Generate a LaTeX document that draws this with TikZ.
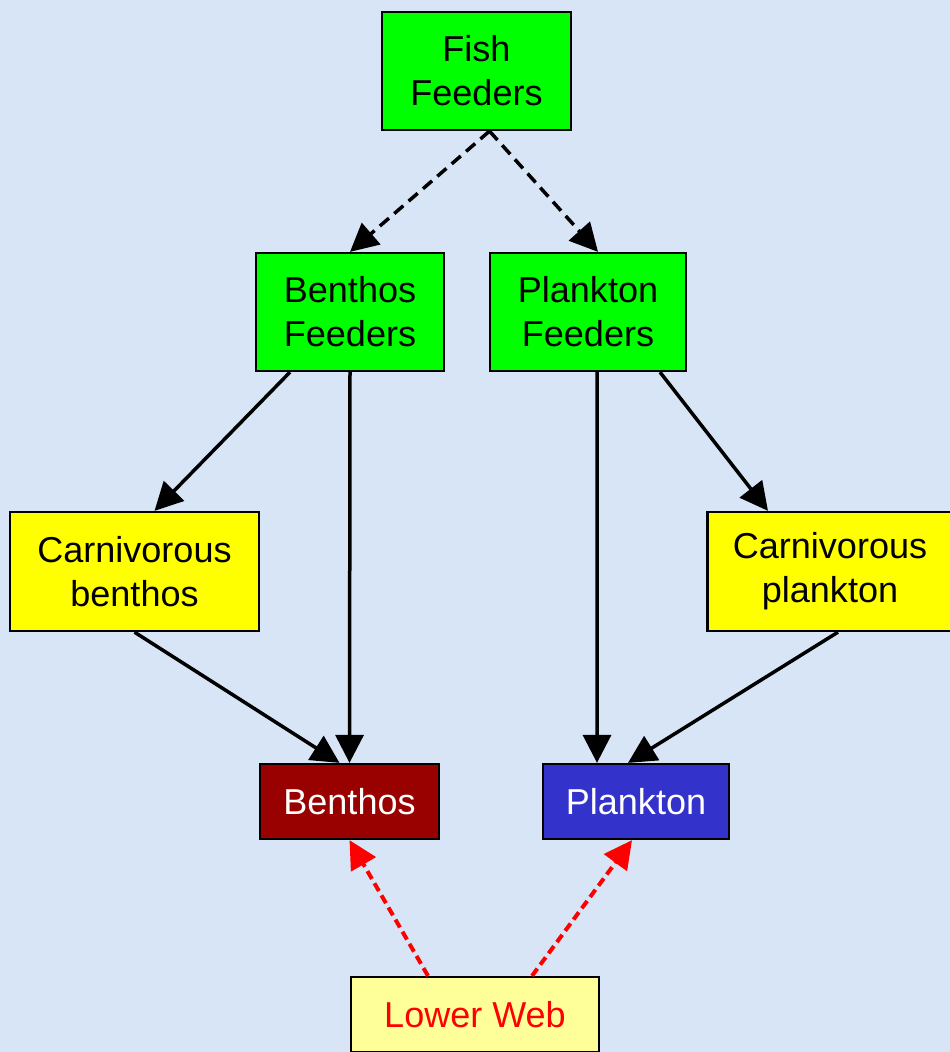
\documentclass[tikz,border=0pt]{standalone}
\usepackage{xcolor}
\usepackage{fontspec}
\setmainfont{Liberation Sans}
\usetikzlibrary{shapes,arrows.meta,positioning}

\definecolor{paper}{RGB}{216,229,246}
\definecolor{leaf}{RGB}{0,255,0}
\definecolor{carni}{RGB}{255,255,0}
\definecolor{benthred}{RGB}{153,0,0}
\definecolor{planblue}{RGB}{51,51,204}
\definecolor{webyellow}{RGB}{255,255,153}

\begin{document}
\begin{tikzpicture}[
          every node/.style={draw, line width=0.45mm, align=center, inner sep=0pt,
                font=\fontsize{20.5}{25}\selectfont},
          feeder/.style={fill=leaf, minimum height=2.36cm},
          prey/.style={fill=carni, minimum height=2.38cm},
          base/.style={minimum height=1.5cm, text=white},
          to/.style={-{Triangle[length=0.56cm,width=0.56cm]}, line width=0.7mm},
          eats/.style={to, dash pattern=on 0.24cm off 0.14cm},
          feeds/.style={to, red, line width=0.8mm, dash pattern=on 0.18cm off 0.1cm},
		]
            \fill[paper] (0,0) rectangle (19,-21.04);
            \useasboundingbox (0,0) rectangle (19,-21.04);

			\node[feeder, minimum width=3.78cm] at (9.53,-1.42) (fish) {Fish\\Feeders};
			\node[feeder, minimum width=3.76cm] at (7.0,-6.24) (bfeed) {Benthos\\Feeders};
			\node[feeder, minimum width=3.92cm] at (11.76,-6.24) (pfeed) {Plankton\\Feeders};
			\node[prey, minimum width=4.98cm] at (2.69,-11.43) (cbenth) {Carnivorous\\benthos};
			\node[prey, minimum width=4.9cm] at (16.6,-11.43) (cplank) {Carnivorous\\plankton};
			\node[base, fill=benthred, minimum width=3.58cm] at (6.99,-16.03) (benthos) {Benthos};
			\node[base, fill=planblue, minimum width=3.72cm] at (12.72,-16.03) (plankton) {Plankton};
			\node[fill=webyellow, text=red, minimum width=4.96cm, minimum height=1.5cm]
                at (9.5,-20.29) (web) {Lower Web};

            \draw[eats] ([xshift=0.26cm]fish.south) -- (bfeed.north);
            \draw[eats] ([xshift=0.26cm]fish.south) -- ([xshift=0.2cm]pfeed.north);
            \draw[to] ([xshift=-1.2cm]bfeed.south) -- ([xshift=0.4cm]cbenth.north);
            \draw[to] (bfeed.south) -- (benthos.north);
            \draw[to] ([xshift=1.44cm]pfeed.south) -- ([xshift=-1.24cm]cplank.north);
            \draw[to] ([xshift=0.18cm]pfeed.south) -- ([xshift=-0.78cm]plankton.north);
            \draw[to] (cbenth.south) -- ([xshift=-0.2cm]benthos.north);
            \draw[to] ([xshift=0.16cm]cplank.south) -- ([xshift=-0.16cm]plankton.north);
            \draw[feeds] ([xshift=-0.94cm]web.north) -- (benthos.south);
            \draw[feeds] ([xshift=1.14cm]web.north) -- ([xshift=-0.08cm]plankton.south);

		 \end{tikzpicture}
\end{document}
